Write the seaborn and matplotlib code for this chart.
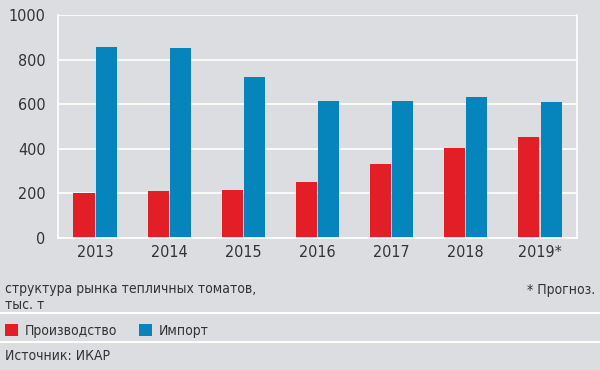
import pandas as pd
import seaborn as sns
import matplotlib.pyplot as plt
from matplotlib.lines import Line2D

# --- Data (тыс. т) ---
years = ["2013", "2014", "2015", "2016", "2017", "2018", "2019*"]
production = [202, 211, 215, 251, 333, 402, 453]
imports = [856, 852, 722, 616, 616, 632, 611]
series_names = ["Производство", "Импорт"]

BG = "#dcdde0"
RED = "#e31e26"
BLUE = "#0685bc"
TXT = "#333333"

df = pd.DataFrame({
    "year": years * 2,
    "value": production + imports,
    "series": [series_names[0]] * len(years) + [series_names[1]] * len(years),
})

sns.set_style("white")
plt.rcParams["font.family"] = ["DejaVu Sans Condensed", "DejaVu Sans"]
plt.rcParams["font.stretch"] = "condensed"

fig = plt.figure(figsize=(6, 3.7), dpi=100, facecolor=BG)
ax = fig.add_axes([0.0967, 0.357, 0.865, 0.6025], facecolor=BG)

sns.barplot(data=df, x="year", y="value", hue="series", palette=[RED, BLUE],
            width=0.6, gap=0.05, ax=ax, saturation=1, legend=True, linewidth=0)

ax.set_ylim(0, 1000)
ax.set_xlim(-0.5, len(years) - 0.5)
ax.set_yticks(range(0, 1001, 200))
ax.yaxis.grid(True, color="white", linewidth=1.2)
ax.set_axisbelow(True)
ax.set_xlabel("")
ax.set_ylabel("")
ax.spines["top"].set_visible(False)
for s in ["left", "bottom", "right"]:
    ax.spines[s].set_color("white")
    ax.spines[s].set_linewidth(1.2)

# boundary ticks between categories
ax.set_xticks([i - 0.5 for i in range(len(years) + 1)], minor=True)
ax.tick_params(axis="x", which="minor", length=5, color="white", width=1.2)
ax.tick_params(axis="x", which="major", length=0, labelsize=11.5, labelcolor=TXT, pad=5)
ax.tick_params(axis="y", length=0, labelsize=11.5, labelcolor=TXT, pad=9)

handles, labels = ax.get_legend_handles_labels()
ax.get_legend().remove()
fig.legend(handles, labels, loc="center left", bbox_to_anchor=(5 / 600, 1 - 331 / 370),
           ncol=2, frameon=False, fontsize=10, labelcolor=TXT,
           handlelength=0.95, handleheight=0.95, handletextpad=0.45,
           columnspacing=1.6, borderaxespad=0, borderpad=0)

fig.text(5 / 600, 1 - 289 / 370, "структура рынка тепличных томатов,", fontsize=10,
         color=TXT, va="center", ha="left")
fig.text(5 / 600, 1 - 305 / 370, "тыс. т", fontsize=10, color=TXT, va="center", ha="left")
fig.text(595 / 600, 1 - 290 / 370, "* Прогноз.", fontsize=10, color=TXT, va="center", ha="right")
fig.text(5 / 600, 1 - 356 / 370, "Источник: ИКАР", fontsize=10, color=TXT, va="center", ha="left")

for yy in [313, 342]:
    fig.add_artist(Line2D([0, 1], [1 - yy / 370] * 2, color="white", linewidth=1.5,
                          transform=fig.transFigure))

fig.savefig("out.png", dpi=100, facecolor=BG)
